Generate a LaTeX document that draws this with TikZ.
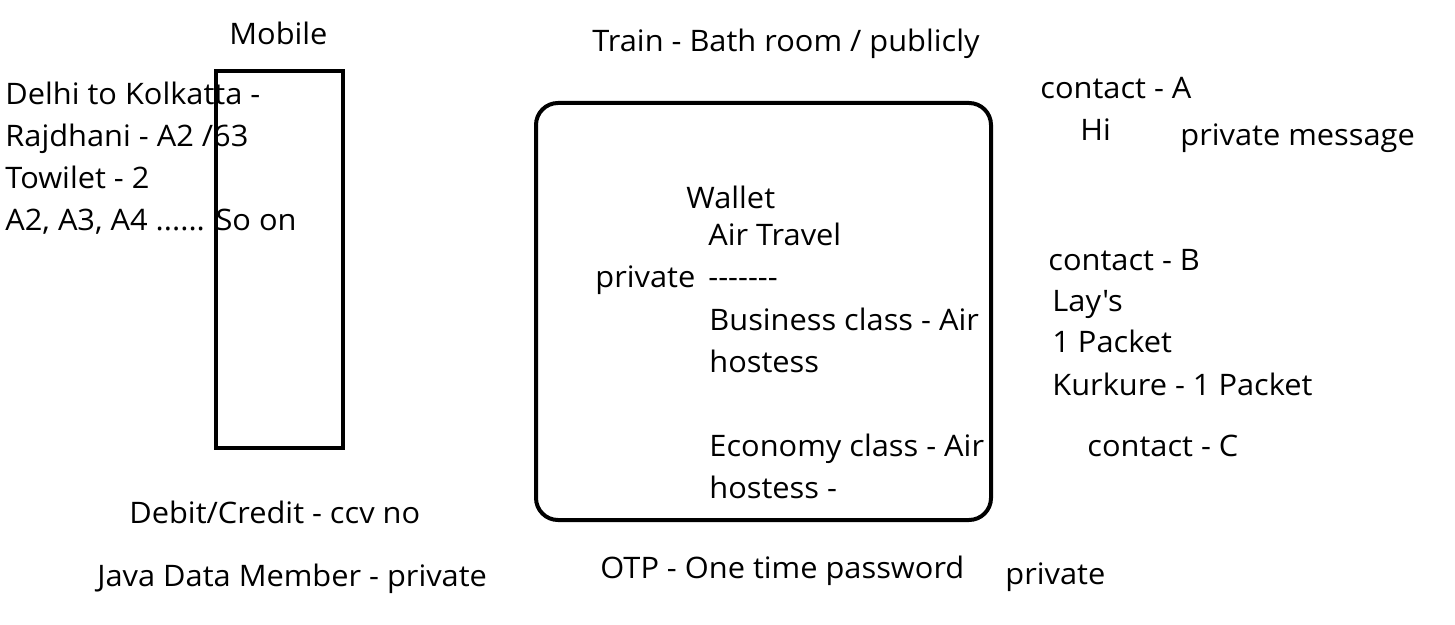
\documentclass[tikz,border=0pt]{standalone}
\usepackage{fontspec}
\setmainfont{Open Sans}[Ligatures=TeXOff,FakeStretch=1.04]
\begin{document}
\begin{tikzpicture}[x=0.5pt,y=-0.5pt,
  txt/.style={anchor=base west,inner sep=0pt,font=\fontsize{14.8pt}{17pt}\selectfont},
  frame/.style={draw=black,line width=2pt}]
\useasboundingbox (0,0) rectangle (1455,625);
% shapes
\node[frame,rectangle,minimum width=127*0.5pt,minimum height=377*0.5pt,inner sep=0pt,anchor=north west] (mobile) at (214,69) {};
\node[frame,rectangle,rounded corners=11pt,minimum width=455*0.5pt,minimum height=417*0.5pt,inner sep=0pt,anchor=north west] (wallet) at (534,101) {};
% left texts
\node[txt] (t1) at (229,45) {Mobile};
\node[txt] (t2) at (5,105) {Delhi to Kolkatta -};
\node[txt] (t3) at (5,147) {Rajdhani - A2 /63};
\node[txt] (t4) at (5,189) {Towilet - 2};
\node[txt] (t5) at (5,231) {A2, A3, A4 ...... So on};
\node[txt] (t6) at (129,523) {Debit/Credit - ccv no};
\node[txt] (t7) at (97,586) {Java Data Member - private};
% middle texts
\node[txt] (t8) at (592,52) {Train - Bath room / publicly};
\node[txt] (t9) at (686,209) {Wallet};
\node[txt] (t10) at (708,246) {Air Travel};
\node[txt] (t11) at (595,288) {private};
\node[txt] (t12) at (708,288) {-------};
\node[txt] (t13) at (709,331) {Business class - Air};
\node[txt] (t14) at (709,372) {hostess};
\node[txt] (t15) at (709,456) {Economy class - Air};
\node[txt] (t16) at (709,498) {hostess -};
\node[txt] (t17) at (600,578) {OTP - One time password};
\node[txt] (t18) at (1005,584) {private};
% right texts
\node[txt] (t19) at (1040,99) {contact - A};
\node[txt] (t20) at (1080,141) {Hi};
\node[txt] (t21) at (1180,146) {private message};
\node[txt] (t22) at (1048,271) {contact - B};
\node[txt] (t23) at (1052,312) {Lay's};
\node[txt] (t24) at (1052,353) {1 Packet};
\node[txt] (t25) at (1052,395) {Kurkure - 1 Packet};
\node[txt] (t26) at (1087,456) {contact - C};
\end{tikzpicture}
\end{document}
